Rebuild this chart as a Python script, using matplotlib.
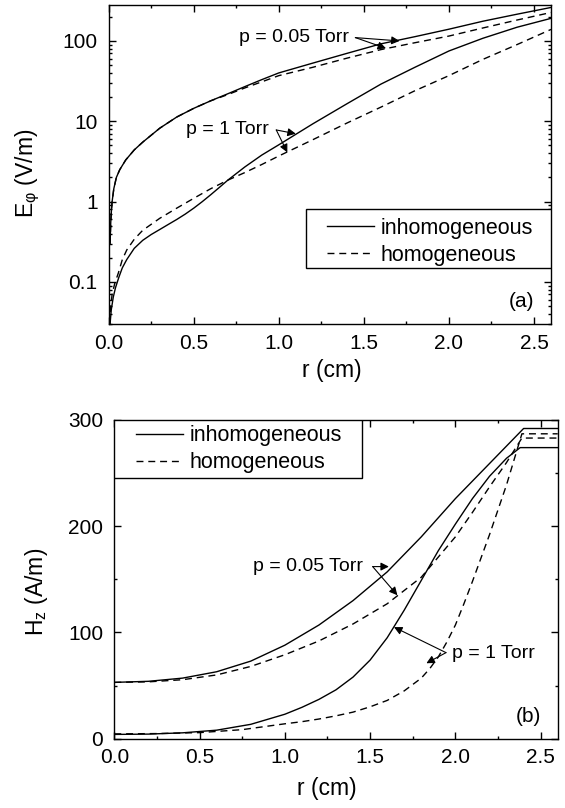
import numpy as np
import matplotlib
matplotlib.use("Agg")
from matplotlib import pyplot as plt
from matplotlib.patches import Rectangle
from matplotlib.ticker import MultipleLocator, LogLocator, FuncFormatter, FormatStrFormatter, NullFormatter

plt.rcParams['font.family'] = ['Liberation Sans', 'DejaVu Sans']
plt.rcParams['mathtext.default'] = 'regular'
plt.rcParams['axes.linewidth'] = 1.0

# ---- panel (a): E_phi versus r (log scale) ----
r_e05_inh = [0.008, 0.012, 0.016, 0.02, 0.03, 0.045, 0.065, 0.1, 0.15, 0.2, 0.3, 0.4, 0.5, 0.6, 0.7,
             0.8, 0.9, 1.0, 1.2, 1.4, 1.6, 1.8, 2.0, 2.2, 2.4, 2.6]
e05_inh = [0.3, 0.55, 0.78, 1.0, 1.45, 2.0, 2.5, 3.3, 4.4, 5.5, 8.2, 11.3, 14.5, 18.0, 22.0,
           27.0, 33.0, 40.0, 53.0, 70.0, 92.0, 113.0, 140.0, 176.0, 215.0, 261.0]
r_e05_hom = r_e05_inh
e05_hom = [0.3, 0.55, 0.78, 1.0, 1.45, 2.0, 2.5, 3.3, 4.4, 5.5, 8.2, 11.3, 14.5, 18.0, 21.5,
           26.0, 31.0, 37.0, 47.0, 61.0, 78.0, 95.0, 115.0, 145.0, 182.0, 226.0]
r_e1_inh = [0.008, 0.015, 0.027, 0.04, 0.06, 0.08, 0.106, 0.15, 0.2, 0.25, 0.3, 0.35, 0.4, 0.45,
            0.5, 0.55, 0.6, 0.65, 0.7, 0.8, 0.9, 1.0, 1.2, 1.4, 1.6, 1.8, 2.0, 2.2, 2.4, 2.6]
e1_inh = [0.03, 0.045, 0.065, 0.085, 0.115, 0.15, 0.19, 0.262, 0.33, 0.39, 0.45, 0.52, 0.6, 0.7,
          0.83, 1.0, 1.22, 1.5, 1.85, 2.7, 3.8, 5.1, 9.3, 16.5, 29.0, 47.0, 75.0, 108.0, 148.0, 191.0]
r_e1_hom = [0.005, 0.012, 0.02, 0.035, 0.057, 0.08, 0.106, 0.15, 0.2, 0.3, 0.4, 0.5, 0.6, 0.7,
            0.8, 0.9, 1.0, 1.2, 1.4, 1.6, 1.8, 2.0, 2.2, 2.4, 2.6]
e1_hom = [0.03, 0.05, 0.07, 0.095, 0.13, 0.19, 0.25, 0.34, 0.44, 0.62, 0.83, 1.1, 1.45, 1.85,
          2.3, 2.9, 3.7, 5.9, 9.5, 15.0, 24.0, 37.0, 59.0, 90.0, 139.0]

# ---- panel (b): H_z versus r ----
r_h05_inh = [0.0, 0.2, 0.4, 0.6, 0.8, 1.0, 1.2, 1.4, 1.6, 1.8, 2.0, 2.2, 2.4, 2.6]
h05_inh = [53, 54, 57, 63, 73, 88, 107, 130, 157, 190, 226, 259, 292, 292]
r_h05_hom = [0.0, 0.2, 0.4, 0.6, 0.8, 1.0, 1.2, 1.4, 1.6, 1.8, 2.0, 2.1, 2.2, 2.3, 2.39, 2.6]
h05_hom = [53, 53.5, 55.5, 60, 68, 79, 92, 108, 127, 152, 190, 213, 237, 260, 283, 283]
r_h1_inh = [0.0, 0.2, 0.4, 0.6, 0.8, 1.0, 1.1, 1.2, 1.3, 1.4, 1.5, 1.6, 1.7, 1.8, 1.9, 2.0,
            2.1, 2.2, 2.3, 2.38, 2.6]
h1_inh = [4, 4.3, 5.5, 8, 13.5, 23, 29.5, 37, 46, 58, 74, 95, 121, 149, 177, 202,
          226, 247, 264, 274, 274]
r_h1_hom = [0.0, 0.25, 0.5, 0.75, 1.0, 1.1, 1.2, 1.3, 1.4, 1.5, 1.6, 1.7, 1.8, 1.85, 1.9, 1.95,
            2.0, 2.05, 2.1, 2.2, 2.3, 2.39, 2.6]
h1_hom = [4.5, 4.8, 5.7, 8.5, 14, 16, 18.5, 21.5, 25, 30, 36, 45, 57, 66, 77, 91,
          107, 127, 148, 192, 239, 287, 287]

dash = (5, 3.5)

fig = plt.figure(figsize=(5.65, 8.08), dpi=100)
ax1 = fig.add_axes([0.1924, 0.599, 0.7828, 0.3948])
ax2 = fig.add_axes([0.2023, 0.0858, 0.7848, 0.3944])

# panel (a)
ax1.plot(r_e05_inh, e05_inh, color='k', lw=1.0, label='inhomogeneous')
ax1.plot(r_e05_hom, e05_hom, color='k', lw=1.0, dashes=dash, label='homogeneous')
ax1.plot(r_e1_inh, e1_inh, color='k', lw=1.0)
ax1.plot(r_e1_hom, e1_hom, color='k', lw=1.0, dashes=dash)
ax1.set_yscale('log')
ax1.set_xlim(0, 2.6)
ax1.set_ylim(0.03, 280)
ax1.yaxis.set_major_locator(LogLocator(base=10, numticks=10))
ax1.yaxis.set_minor_locator(LogLocator(base=10, subs=np.arange(2, 10), numticks=20))
ax1.yaxis.set_major_formatter(FuncFormatter(lambda v, p: '%g' % v))
ax1.yaxis.set_minor_formatter(NullFormatter())

# panel (b)
ax2.plot(r_h05_inh, h05_inh, color='k', lw=1.0, label='inhomogeneous')
ax2.plot(r_h05_hom, h05_hom, color='k', lw=1.0, dashes=dash, label='homogeneous')
ax2.plot(r_h1_inh, h1_inh, color='k', lw=1.0)
ax2.plot(r_h1_hom, h1_hom, color='k', lw=1.0, dashes=dash)
ax2.set_xlim(0, 2.6)
ax2.set_ylim(0, 300)
ax2.yaxis.set_major_locator(MultipleLocator(100))
ax2.yaxis.set_minor_locator(MultipleLocator(50))

for ax in (ax1, ax2):
    ax.xaxis.set_major_locator(MultipleLocator(0.5))
    ax.xaxis.set_minor_locator(MultipleLocator(0.25))
    ax.xaxis.set_major_formatter(FormatStrFormatter('%.1f'))
    ax.tick_params(which='both', direction='in', top=True, right=True, width=1.0)
    ax.tick_params(which='major', length=4.8, labelsize=15)
    ax.tick_params(which='minor', length=2.5)
    ax.tick_params(axis='y', pad=8)
    ax.tick_params(axis='x', pad=7)
    ax.set_xlabel('r (cm)', fontsize=16.5)

ax1.set_ylabel('E$_\\varphi$ (V/m)', fontsize=16.5)
ax2.set_ylabel('H$_z$ (A/m)', fontsize=16.5)
ax1.yaxis.set_label_coords(-0.151, 0.473)
ax2.yaxis.set_label_coords(-0.145, 0.461)
ax1.xaxis.set_label_coords(0.505, -0.11)
ax2.xaxis.set_label_coords(0.48, -0.12)

# legends: plain box drawn by hand, entries without frame
leg_kw = dict(fontsize=15.5, frameon=False, borderpad=0, borderaxespad=0,
              handlelength=2.2, handletextpad=0.3, labelspacing=0.28)
ax1.add_patch(Rectangle((0.446, 0.1755), 0.554, 0.185, transform=ax1.transAxes,
                        facecolor='white', edgecolor='k', lw=1.0, zorder=4))
l1 = ax1.legend(loc='center left', bbox_to_anchor=(0.4936, 0.258), **leg_kw)
ax2.add_patch(Rectangle((0.0, 0.817), 0.558, 0.183, transform=ax2.transAxes,
                        facecolor='white', edgecolor='k', lw=1.0, zorder=4))
l2 = ax2.legend(loc='center left', bbox_to_anchor=(0.049, 0.9085), **leg_kw)
for l in (l1, l2):
    l.set_zorder(5)

arrow = dict(arrowstyle='-|>', color='k', lw=0.8, mutation_scale=12, shrinkA=0, shrinkB=0)

# annotations (a)
ax1.text(1.41, 110, 'p = 0.05 Torr', fontsize=14, ha='right', va='center')
ax1.annotate('', xy=(1.71, 100), xytext=(1.45, 110), arrowprops=arrow)
ax1.annotate('', xy=(1.63, 81), xytext=(1.45, 110), arrowprops=arrow)
ax1.text(0.94, 7.8, 'p = 1 Torr', fontsize=14, ha='right', va='center')
ax1.annotate('', xy=(1.10, 7.0), xytext=(0.985, 7.8), arrowprops=arrow)
ax1.annotate('', xy=(1.05, 4.1), xytext=(0.985, 7.8), arrowprops=arrow)
ax1.text(0.962, 0.07, '(a)', fontsize=15, ha='right', va='center', transform=ax1.transAxes)

# annotations (b)
ax2.text(1.46, 162, 'p = 0.05 Torr', fontsize=14, ha='right', va='center')
ax2.annotate('', xy=(1.61, 162), xytext=(1.515, 162), arrowprops=arrow)
ax2.annotate('', xy=(1.66, 135), xytext=(1.515, 162), arrowprops=arrow)
ax2.text(1.98, 80, 'p = 1 Torr', fontsize=14, ha='left', va='center')
ax2.annotate('', xy=(1.64, 105), xytext=(1.945, 81), arrowprops=arrow)
ax2.annotate('', xy=(1.83, 71), xytext=(1.945, 81), arrowprops=arrow)
ax2.text(0.962, 0.069, '(b)', fontsize=15, ha='right', va='center', transform=ax2.transAxes)

fig.savefig('out.png', dpi=100)
